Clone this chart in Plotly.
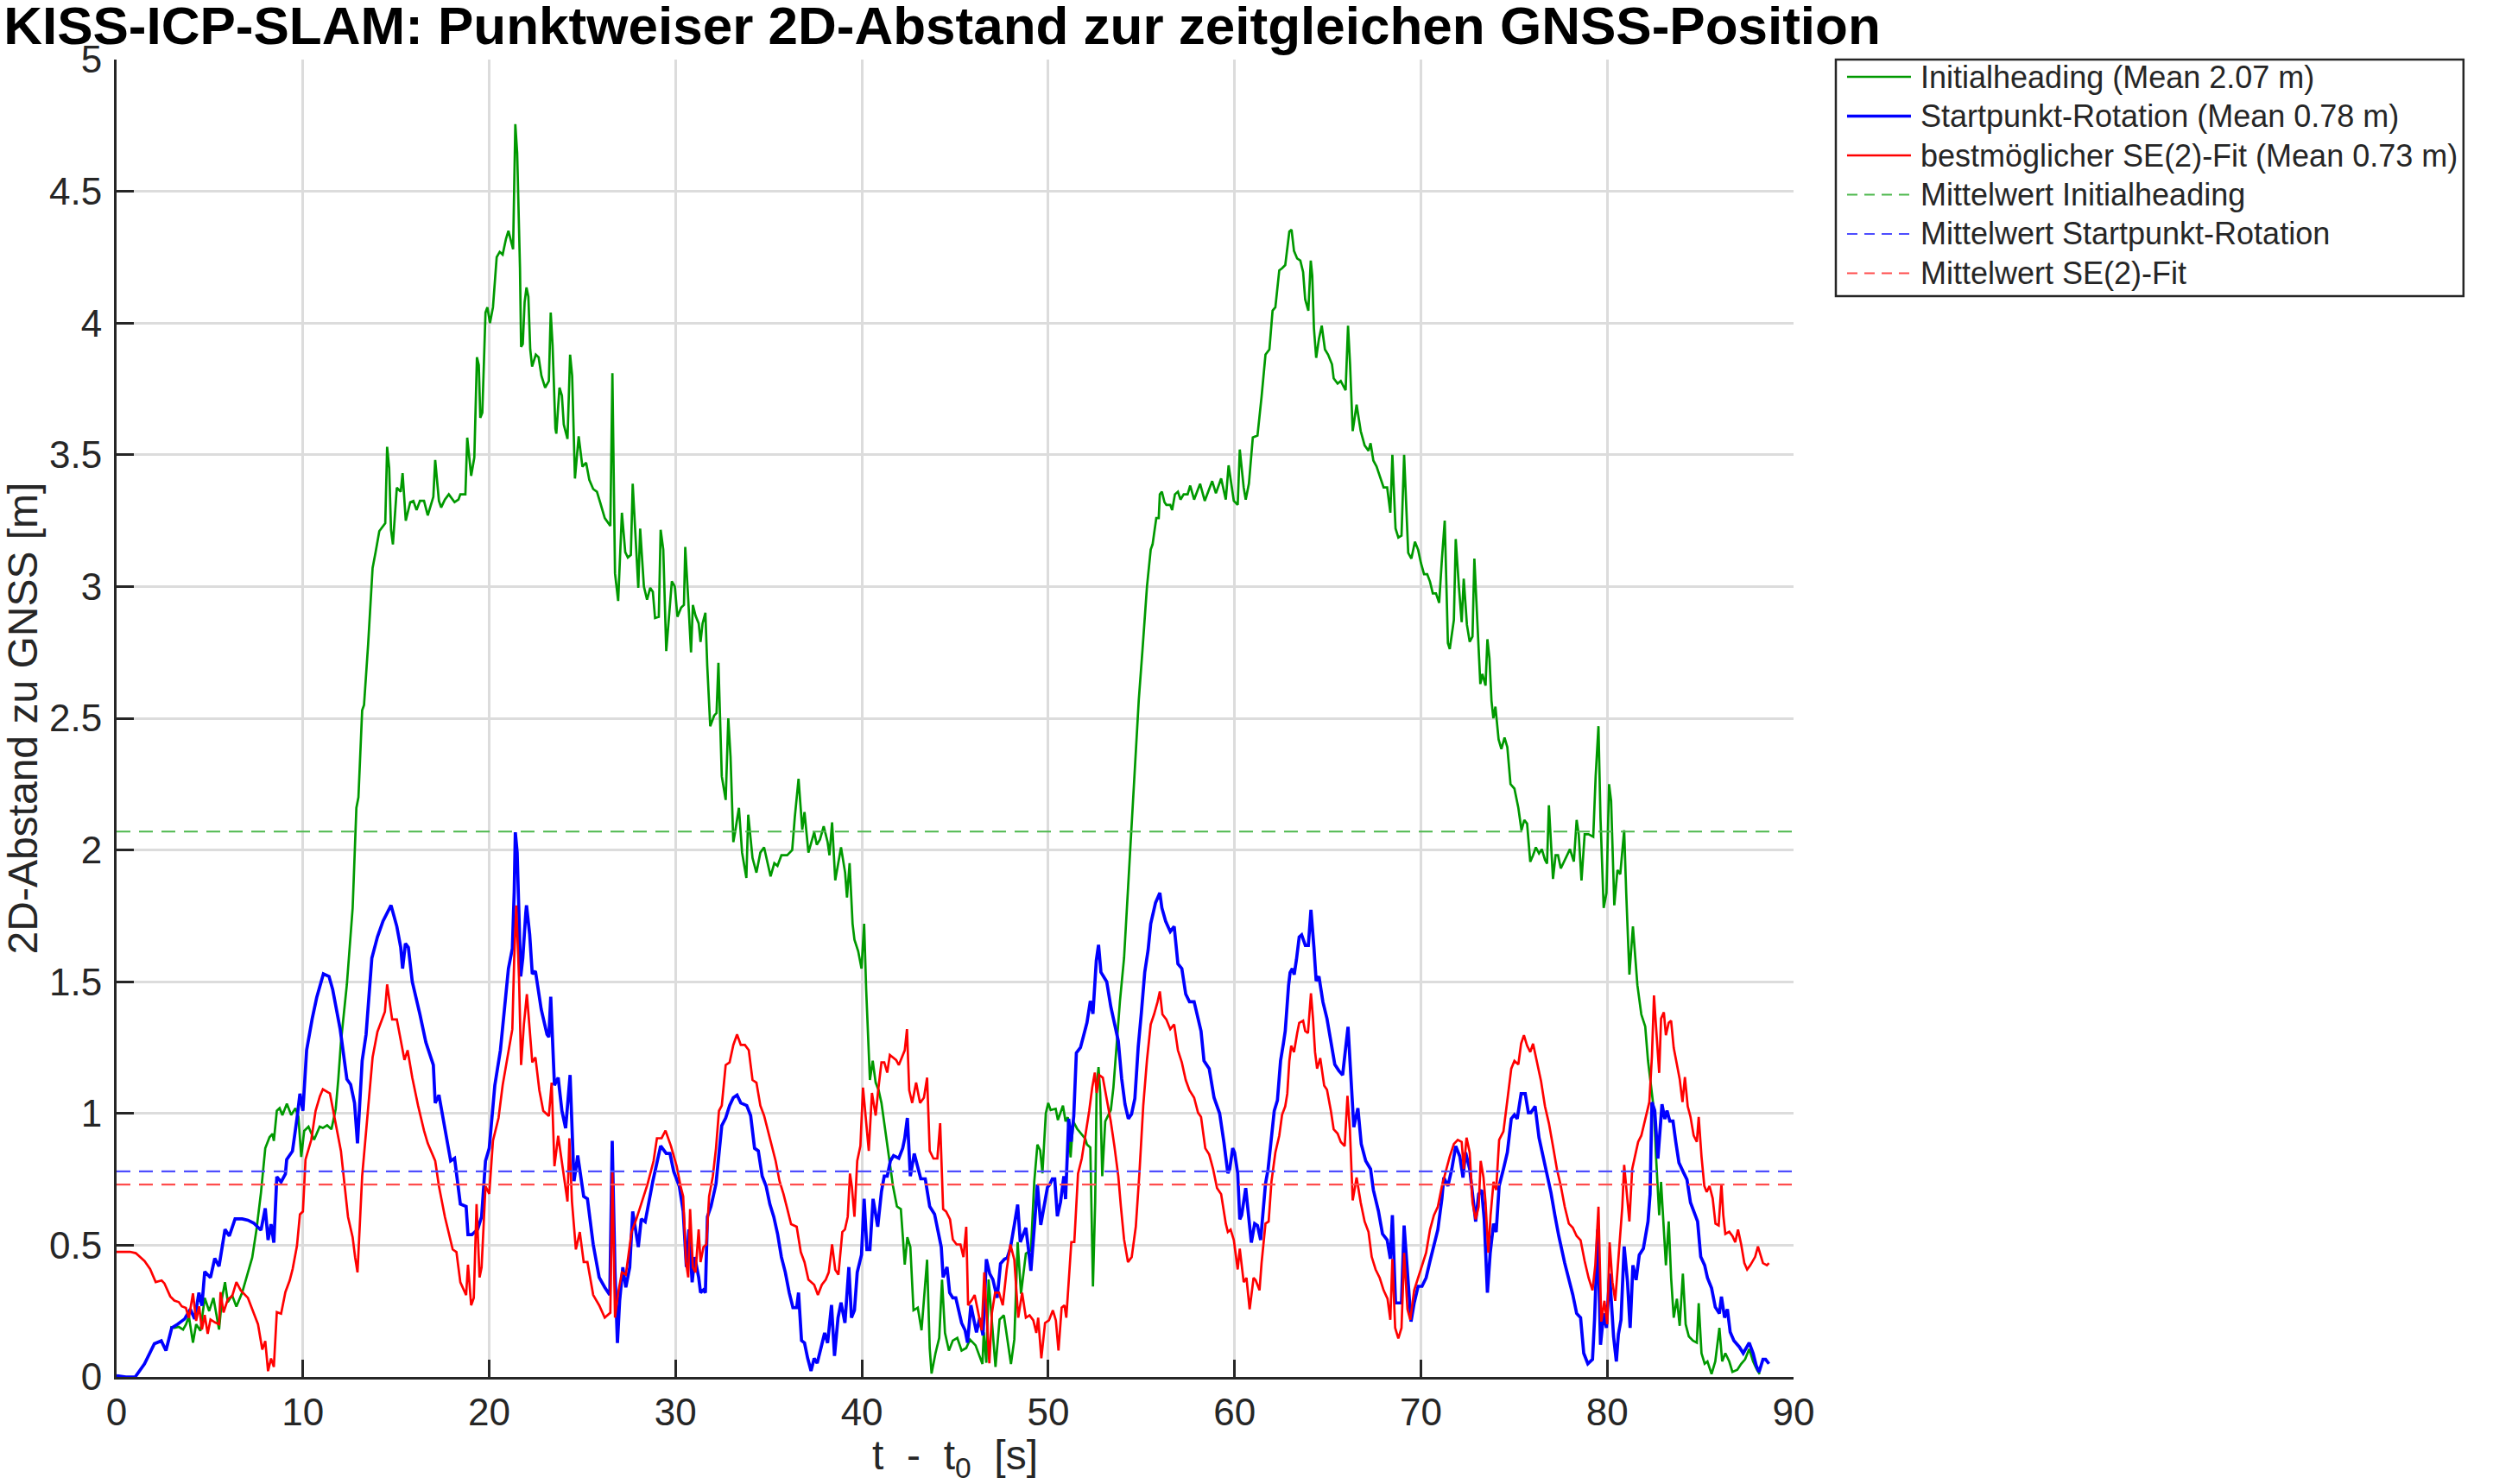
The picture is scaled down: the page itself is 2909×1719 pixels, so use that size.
import plotly.graph_objects as go

# ---------------- data ----------------
t_green = [2.88, 3.1, 3.34, 3.57, 3.73, 3.88, 4.1, 4.27, 4.5, 4.73, 4.97, 5.2, 5.5, 5.66, 5.82, 5.97, 6.2, 6.43, 6.74, 7.05, 7.28, 7.51, 7.75, 7.98, 8.21, 8.37, 8.44, 8.6, 8.75, 8.9, 9.14, 9.37, 9.6, 9.76, 9.91, 10.07, 10.3, 10.6, 10.9, 11.07, 11.3, 11.53, 11.76, 11.9, 12.04, 12.36, 12.67, 12.87, 12.98, 13.18, 13.28, 13.5, 13.74, 13.9, 14.1, 14.42, 14.52, 14.63, 14.73, 14.83, 15.04, 15.25, 15.35, 15.52, 15.76, 15.93, 16.1, 16.28, 16.5, 16.7, 16.86, 17.0, 17.1, 17.3, 17.42, 17.62, 17.83, 18.14, 18.35, 18.45, 18.72, 18.82, 19.03, 19.2, 19.34, 19.44, 19.52, 19.63, 19.8, 19.9, 20.04, 20.2, 20.4, 20.56, 20.72, 20.9, 21.03, 21.28, 21.4, 21.5, 21.65, 21.71, 21.8, 21.9, 22.0, 22.1, 22.2, 22.3, 22.5, 22.65, 22.8, 23.0, 23.2, 23.3, 23.4, 23.55, 23.6, 23.77, 23.9, 24.0, 24.2, 24.34, 24.45, 24.6, 24.8, 25.0, 25.2, 25.37, 25.58, 25.78, 25.95, 26.2, 26.5, 26.61, 26.75, 26.92, 27.12, 27.3, 27.44, 27.6, 27.7, 27.85, 28.0, 28.1, 28.3, 28.47, 28.64, 28.78, 28.9, 29.1, 29.2, 29.34, 29.5, 29.8, 29.96, 30.1, 30.3, 30.45, 30.52, 30.68, 30.83, 30.93, 31.07, 31.24, 31.34, 31.45, 31.6, 31.7, 31.86, 32.07, 32.2, 32.3, 32.48, 32.69, 32.83, 32.95, 33.1, 33.2, 33.4, 33.57, 33.8, 33.9, 34.13, 34.34, 34.55, 34.75, 34.9, 35.1, 35.3, 35.47, 35.68, 35.99, 36.26, 36.4, 36.6, 36.8, 36.92, 37.13, 37.44, 37.58, 37.75, 37.95, 38.16, 38.26, 38.4, 38.57, 38.88, 39.1, 39.2, 39.34, 39.5, 39.6, 39.8, 39.98, 40.12, 40.23, 40.43, 40.58, 40.74, 40.9, 41.05, 41.26, 41.47, 41.67, 41.88, 42.09, 42.2, 42.3, 42.44, 42.6, 42.77, 43.0, 43.2, 43.5, 43.64, 43.74, 43.95, 44.15, 44.3, 44.46, 44.67, 44.88, 45.12, 45.35, 45.6, 45.8, 46.1, 46.47, 46.54, 46.68, 46.8, 47.03, 47.17, 47.39, 47.62, 48.0, 48.18, 48.36, 48.54, 48.8, 49.07, 49.25, 49.42, 49.57, 49.69, 49.87, 50.0, 50.13, 50.4, 50.52, 50.79, 50.93, 51.05, 51.2, 51.34, 51.55, 51.85, 51.99, 52.08, 52.26, 52.4, 52.52, 52.6, 52.7, 52.79, 52.9, 53.06, 53.23, 53.36, 53.5, 53.68, 53.85, 54.07, 54.28, 54.5, 54.65, 54.86, 55.06, 55.3, 55.5, 55.6, 55.8, 55.93, 55.99, 56.1, 56.24, 56.34, 56.55, 56.65, 56.8, 56.96, 57.1, 57.27, 57.48, 57.62, 57.83, 58.15, 58.4, 58.8, 59.0, 59.28, 59.53, 59.68, 59.96, 60.17, 60.28, 60.49, 60.6, 60.77, 60.98, 61.23, 61.45, 61.66, 61.87, 62.04, 62.19, 62.4, 62.55, 62.72, 62.94, 63.06, 63.19, 63.36, 63.53, 63.68, 63.79, 63.96, 64.09, 64.17, 64.26, 64.38, 64.53, 64.68, 64.85, 65.02, 65.23, 65.32, 65.53, 65.7, 65.96, 66.09, 66.2, 66.34, 66.55, 66.77, 66.98, 67.19, 67.3, 67.45, 67.62, 67.83, 68.0, 68.19, 68.36, 68.47, 68.64, 68.79, 68.96, 69.1, 69.32, 69.49, 69.68, 69.85, 70.0, 70.17, 70.34, 70.49, 70.64, 70.81, 70.98, 71.13, 71.28, 71.45, 71.55, 71.77, 71.87, 72.04, 72.19, 72.3, 72.47, 72.62, 72.77, 72.87, 73.04, 73.19, 73.3, 73.47, 73.57, 73.68, 73.79, 73.89, 74.0, 74.17, 74.32, 74.49, 74.64, 74.81, 75.02, 75.23, 75.4, 75.55, 75.7, 75.87, 76.02, 76.17, 76.34, 76.49, 76.66, 76.77, 76.87, 77.09, 77.23, 77.36, 77.51, 77.72, 78.0, 78.21, 78.36, 78.47, 78.62, 78.79, 79.0, 79.25, 79.38, 79.53, 79.64, 79.81, 79.96, 80.1, 80.21, 80.38, 80.55, 80.7, 80.91, 81.02, 81.19, 81.38, 81.62, 81.83, 82.04, 82.19, 82.4, 82.51, 82.62, 82.79, 82.89, 83.04, 83.15, 83.3, 83.43, 83.57, 83.74, 83.89, 84.06, 84.21, 84.38, 84.6, 84.81, 84.91, 85.06, 85.23, 85.38, 85.6, 85.8, 86.02, 86.17, 86.34, 86.55, 86.72, 86.98, 87.19, 87.4, 87.62, 87.83, 88.04, 88.19]
v_green = [0.19, 0.186, 0.19, 0.18, 0.2, 0.23, 0.13, 0.2, 0.175, 0.3, 0.25, 0.3, 0.18, 0.3, 0.36, 0.284, 0.31, 0.267, 0.32, 0.4, 0.453, 0.56, 0.7, 0.868, 0.91, 0.923, 0.896, 1.01, 1.02, 0.994, 1.037, 0.994, 1.02, 0.988, 0.835, 0.934, 0.95, 0.9, 0.95, 0.945, 0.955, 0.94, 1.016, 1.13, 1.27, 1.49, 1.78, 2.16, 2.2, 2.53, 2.55, 2.78, 3.07, 3.13, 3.21, 3.24, 3.53, 3.45, 3.215, 3.16, 3.375, 3.36, 3.43, 3.25, 3.32, 3.325, 3.29, 3.325, 3.325, 3.27, 3.31, 3.34, 3.48, 3.325, 3.3, 3.33, 3.35, 3.32, 3.33, 3.35, 3.35, 3.565, 3.42, 3.49, 3.87, 3.84, 3.64, 3.66, 4.04, 4.06, 4.0, 4.06, 4.25, 4.27, 4.26, 4.32, 4.35, 4.28, 4.755, 4.645, 4.21, 3.91, 3.92, 4.08, 4.135, 4.1, 3.9, 3.835, 3.88, 3.87, 3.8, 3.755, 3.78, 4.04, 3.915, 3.6, 3.58, 3.755, 3.725, 3.615, 3.56, 3.88, 3.8, 3.41, 3.57, 3.455, 3.47, 3.405, 3.37, 3.36, 3.32, 3.26, 3.23, 3.81, 3.05, 2.945, 3.28, 3.13, 3.11, 3.12, 3.39, 3.2, 2.995, 3.22, 3.0, 2.95, 2.995, 2.98, 2.88, 2.885, 3.215, 3.14, 2.755, 3.02, 3.0, 2.885, 2.92, 2.93, 3.15, 2.95, 2.75, 2.93, 2.89, 2.86, 2.79, 2.86, 2.9, 2.7, 2.47, 2.51, 2.52, 2.71, 2.28, 2.19, 2.5, 2.355, 2.03, 2.07, 2.16, 1.99, 1.894, 2.134, 1.97, 1.914, 1.99, 2.01, 1.96, 1.9, 1.95, 1.94, 1.98, 1.98, 2.0, 2.125, 2.27, 2.077, 2.144, 1.99, 2.067, 2.02, 2.04, 2.09, 2.03, 1.98, 2.105, 1.885, 2.01, 1.914, 1.82, 1.95, 1.72, 1.66, 1.616, 1.55, 1.72, 1.47, 1.127, 1.2, 1.117, 1.088, 1.04, 0.935, 0.82, 0.724, 0.647, 0.637, 0.53, 0.426, 0.53, 0.493, 0.253, 0.263, 0.177, 0.445, 0.109, 0.013, 0.09, 0.148, 0.369, 0.167, 0.1, 0.138, 0.148, 0.1, 0.11, 0.142, 0.12, 0.049, 0.169, 0.054, 0.37, 0.152, 0.038, 0.218, 0.234, 0.049, 0.142, 0.512, 0.316, 0.468, 0.48, 0.74, 0.882, 0.86, 0.773, 1.0, 1.04, 1.013, 1.018, 0.975, 1.03, 0.97, 0.986, 0.833, 0.97, 0.942, 0.915, 0.904, 0.882, 0.871, 0.343, 0.664, 1.105, 1.176, 1.078, 0.762, 0.97, 0.997, 1.013, 1.1, 1.264, 1.427, 1.59, 1.856, 2.125, 2.3, 2.57, 2.76, 3.0, 3.14, 3.16, 3.26, 3.26, 3.35, 3.36, 3.32, 3.31, 3.31, 3.29, 3.35, 3.36, 3.33, 3.35, 3.35, 3.383, 3.33, 3.39, 3.325, 3.4, 3.354, 3.41, 3.33, 3.46, 3.325, 3.31, 3.52, 3.376, 3.33, 3.39, 3.566, 3.573, 3.72, 3.88, 3.9, 4.047, 4.06, 4.2, 4.208, 4.22, 4.347, 4.354, 4.274, 4.245, 4.237, 4.193, 4.09, 4.047, 4.237, 4.18, 3.98, 3.868, 3.94, 3.99, 3.9, 3.88, 3.843, 3.79, 3.77, 3.78, 3.745, 3.99, 3.843, 3.59, 3.69, 3.59, 3.536, 3.515, 3.544, 3.478, 3.456, 3.41, 3.376, 3.376, 3.28, 3.5, 3.22, 3.186, 3.193, 3.5, 3.128, 3.106, 3.17, 3.14, 3.09, 3.047, 3.047, 3.018, 2.974, 2.974, 2.938, 3.106, 3.25, 2.785, 2.763, 2.873, 3.18, 3.0, 2.865, 3.03, 2.855, 2.79, 2.81, 3.106, 2.873, 2.63, 2.668, 2.624, 2.8, 2.727, 2.566, 2.5, 2.544, 2.42, 2.383, 2.427, 2.39, 2.25, 2.233, 2.16, 2.075, 2.114, 2.1, 1.955, 1.98, 2.01, 1.987, 2.003, 1.963, 1.948, 2.17, 1.89, 1.98, 1.98, 1.93, 1.963, 2.003, 1.956, 2.114, 2.06, 1.884, 2.06, 2.06, 2.05, 2.28, 2.47, 2.12, 1.78, 1.837, 2.25, 2.186, 1.79, 1.924, 1.908, 2.075, 1.837, 1.527, 1.71, 1.487, 1.376, 1.33, 1.2, 1.075, 1.01, 0.837, 0.614, 0.74, 0.55, 0.424, 0.59, 0.376, 0.225, 0.297, 0.194, 0.392, 0.2, 0.154, 0.138, 0.13, 0.28, 0.09, 0.05, 0.059, 0.011, 0.059, 0.186, 0.059, 0.09, 0.059, 0.019, 0.027, 0.05, 0.067, 0.106, 0.059, 0.027, 0.011]

t_blue = [0.0, 0.5, 1.0, 1.5, 2.03, 2.4, 2.65, 2.96, 3.27, 3.65, 3.96, 4.19, 4.42, 4.58, 4.73, 5.04, 5.27, 5.5, 5.82, 6.05, 6.36, 6.74, 7.05, 7.36, 7.75, 7.98, 8.13, 8.29, 8.44, 8.6, 8.83, 9.06, 9.13, 9.44, 9.68, 9.84, 10.0, 10.2, 10.5, 10.74, 11.1, 11.4, 11.6, 12.0, 12.36, 12.56, 12.77, 12.93, 13.18, 13.39, 13.7, 14.0, 14.3, 14.73, 15.04, 15.25, 15.35, 15.5, 15.66, 15.87, 16.28, 16.6, 17.0, 17.1, 17.3, 17.62, 17.93, 18.14, 18.45, 18.76, 18.86, 19.07, 19.38, 19.59, 19.8, 20.0, 20.3, 20.6, 20.83, 21.03, 21.24, 21.34, 21.4, 21.5, 21.69, 21.8, 21.96, 22.0, 22.17, 22.31, 22.48, 22.79, 23.1, 23.2, 23.3, 23.5, 23.7, 23.9, 24.1, 24.34, 24.55, 24.75, 25.07, 25.27, 25.58, 25.9, 26.2, 26.47, 26.6, 26.75, 26.88, 27.0, 27.17, 27.33, 27.54, 27.7, 28.0, 28.16, 28.37, 28.78, 29.2, 29.5, 29.7, 29.9, 30.2, 30.41, 30.58, 30.72, 30.89, 31.03, 31.24, 31.34, 31.49, 31.6, 31.71, 31.9, 32.17, 32.31, 32.48, 32.69, 32.9, 33.1, 33.3, 33.5, 33.82, 34.03, 34.24, 34.44, 34.65, 34.86, 35.06, 35.27, 35.48, 35.68, 35.89, 36.1, 36.3, 36.5, 36.6, 36.76, 36.92, 37.09, 37.27, 37.44, 37.6, 37.8, 38.0, 38.16, 38.37, 38.53, 38.72, 38.88, 39.09, 39.3, 39.44, 39.6, 39.75, 39.98, 40.12, 40.27, 40.43, 40.6, 40.85, 41.05, 41.2, 41.36, 41.53, 41.7, 41.98, 42.19, 42.3, 42.44, 42.6, 42.81, 43.02, 43.16, 43.4, 43.64, 43.9, 44.1, 44.26, 44.36, 44.57, 44.71, 44.88, 45.04, 45.2, 45.35, 45.54, 45.67, 45.85, 45.97, 46.15, 46.32, 46.5, 46.68, 46.86, 47.03, 47.26, 47.44, 47.65, 47.8, 47.97, 48.18, 48.36, 48.5, 48.8, 48.95, 49.07, 49.25, 49.42, 49.6, 49.78, 49.96, 50.08, 50.22, 50.35, 50.49, 50.66, 50.84, 50.93, 51.1, 51.23, 51.37, 51.51, 51.73, 51.9, 52.08, 52.26, 52.4, 52.58, 52.7, 52.83, 53.14, 53.36, 53.59, 53.76, 53.94, 54.12, 54.3, 54.47, 54.65, 54.83, 55.0, 55.18, 55.36, 55.5, 55.76, 55.99, 56.1, 56.3, 56.55, 56.76, 56.96, 57.17, 57.38, 57.58, 57.83, 58.04, 58.2, 58.36, 58.64, 58.9, 59.2, 59.43, 59.64, 59.74, 59.9, 60.0, 60.17, 60.28, 60.38, 60.6, 60.77, 60.9, 61.08, 61.23, 61.4, 61.5, 61.66, 61.8, 61.98, 62.13, 62.3, 62.47, 62.62, 62.72, 62.9, 62.98, 63.1, 63.2, 63.32, 63.47, 63.6, 63.8, 63.96, 64.1, 64.26, 64.38, 64.53, 64.74, 64.96, 65.17, 65.38, 65.6, 65.8, 66.09, 66.23, 66.4, 66.62, 66.8, 67.04, 67.3, 67.45, 67.72, 67.94, 68.19, 68.36, 68.47, 68.64, 68.79, 68.96, 69.1, 69.28, 69.47, 69.64, 69.85, 70.06, 70.28, 70.49, 70.7, 70.91, 71.13, 71.23, 71.45, 71.66, 71.87, 72.09, 72.26, 72.4, 72.62, 72.77, 72.94, 73.1, 73.26, 73.4, 73.57, 73.72, 73.9, 74.04, 74.2, 74.43, 74.64, 74.85, 75.02, 75.17, 75.38, 75.6, 75.77, 75.9, 76.13, 76.34, 76.55, 76.77, 76.98, 77.19, 77.4, 77.72, 77.94, 78.15, 78.36, 78.57, 78.74, 78.96, 79.21, 79.32, 79.49, 79.64, 79.81, 79.96, 80.13, 80.34, 80.49, 80.6, 80.74, 80.91, 81.09, 81.23, 81.38, 81.55, 81.72, 81.94, 82.19, 82.3, 82.4, 82.55, 82.72, 82.83, 82.94, 83.09, 83.21, 83.36, 83.53, 83.68, 83.85, 84.06, 84.28, 84.47, 84.64, 84.85, 85.02, 85.23, 85.38, 85.6, 85.8, 86.02, 86.13, 86.3, 86.45, 86.6, 86.8, 87.09, 87.3, 87.62, 87.83, 88.0, 88.15, 88.36, 88.5, 88.68]
v_blue = [0.005, 0.0, 0.0, 0.05, 0.126, 0.137, 0.1, 0.186, 0.2, 0.22, 0.257, 0.22, 0.32, 0.27, 0.4, 0.377, 0.45, 0.42, 0.56, 0.535, 0.6, 0.6, 0.595, 0.584, 0.557, 0.64, 0.52, 0.58, 0.51, 0.76, 0.74, 0.77, 0.825, 0.857, 0.98, 1.075, 1.01, 1.24, 1.36, 1.44, 1.53, 1.52, 1.47, 1.32, 1.13, 1.11, 1.04, 0.887, 1.2, 1.3, 1.59, 1.67, 1.73, 1.79, 1.71, 1.63, 1.55, 1.645, 1.63, 1.5, 1.376, 1.27, 1.184, 1.04, 1.07, 0.935, 0.82, 0.83, 0.656, 0.647, 0.54, 0.54, 0.56, 0.608, 0.82, 0.868, 1.107, 1.24, 1.415, 1.55, 1.626, 1.84, 2.067, 1.99, 1.52, 1.59, 1.76, 1.79, 1.68, 1.53, 1.54, 1.395, 1.3, 1.29, 1.443, 1.107, 1.136, 1.01, 0.944, 1.146, 0.743, 0.84, 0.685, 0.676, 0.503, 0.378, 0.34, 0.311, 0.896, 0.397, 0.129, 0.29, 0.416, 0.34, 0.416, 0.628, 0.493, 0.6, 0.589, 0.743, 0.877, 0.848, 0.848, 0.78, 0.724, 0.628, 0.417, 0.56, 0.359, 0.455, 0.378, 0.32, 0.33, 0.32, 0.608, 0.647, 0.733, 0.83, 0.954, 0.983, 1.03, 1.06, 1.07, 1.04, 1.03, 0.992, 0.868, 0.858, 0.762, 0.724, 0.656, 0.608, 0.541, 0.455, 0.397, 0.32, 0.263, 0.263, 0.32, 0.138, 0.129, 0.071, 0.023, 0.071, 0.052, 0.109, 0.167, 0.129, 0.273, 0.08, 0.225, 0.282, 0.205, 0.417, 0.225, 0.253, 0.397, 0.464, 0.676, 0.484, 0.484, 0.676, 0.57, 0.704, 0.762, 0.762, 0.82, 0.84, 0.83, 0.868, 0.906, 0.983, 0.762, 0.848, 0.79, 0.752, 0.752, 0.647, 0.618, 0.55, 0.493, 0.378, 0.417, 0.32, 0.3, 0.3, 0.244, 0.205, 0.177, 0.13, 0.272, 0.229, 0.169, 0.223, 0.158, 0.447, 0.392, 0.37, 0.3, 0.43, 0.447, 0.452, 0.49, 0.577, 0.654, 0.512, 0.566, 0.479, 0.403, 0.566, 0.73, 0.577, 0.643, 0.72, 0.73, 0.752, 0.752, 0.61, 0.664, 0.762, 0.675, 0.98, 0.893, 0.99, 1.23, 1.25, 1.296, 1.345, 1.427, 1.378, 1.58, 1.64, 1.536, 1.5, 1.405, 1.33, 1.275, 1.133, 1.035, 0.98, 0.997, 1.057, 1.253, 1.383, 1.536, 1.62, 1.72, 1.8, 1.837, 1.78, 1.73, 1.69, 1.71, 1.568, 1.55, 1.453, 1.424, 1.424, 1.36, 1.313, 1.2, 1.17, 1.06, 1.0, 0.89, 0.773, 0.789, 0.868, 0.852, 0.773, 0.598, 0.614, 0.717, 0.598, 0.51, 0.582, 0.575, 0.52, 0.614, 0.733, 0.789, 0.916, 1.01, 1.05, 1.2, 1.265, 1.313, 1.487, 1.535, 1.55, 1.527, 1.583, 1.67, 1.678, 1.638, 1.638, 1.773, 1.63, 1.503, 1.52, 1.424, 1.36, 1.265, 1.186, 1.162, 1.146, 1.329, 1.138, 0.948, 1.02, 0.884, 0.82, 0.789, 0.71, 0.63, 0.543, 0.52, 0.448, 0.614, 0.281, 0.281, 0.281, 0.575, 0.376, 0.21, 0.281, 0.344, 0.344, 0.376, 0.44, 0.495, 0.559, 0.678, 0.757, 0.725, 0.789, 0.876, 0.837, 0.757, 0.852, 0.789, 0.694, 0.59, 0.694, 0.71, 0.598, 0.32, 0.47, 0.582, 0.55, 0.725, 0.789, 0.852, 0.98, 0.995, 0.98, 1.075, 1.075, 1.003, 1.003, 1.027, 0.908, 0.837, 0.757, 0.7, 0.614, 0.535, 0.432, 0.376, 0.313, 0.241, 0.225, 0.09, 0.05, 0.067, 0.217, 0.559, 0.122, 0.241, 0.186, 0.392, 0.154, 0.059, 0.162, 0.217, 0.495, 0.36, 0.186, 0.424, 0.368, 0.463, 0.487, 0.59, 0.694, 1.043, 1.011, 0.829, 0.924, 1.035, 0.979, 1.011, 0.971, 0.971, 0.892, 0.813, 0.781, 0.749, 0.662, 0.63, 0.59, 0.456, 0.424, 0.376, 0.337, 0.265, 0.241, 0.305, 0.225, 0.257, 0.17, 0.138, 0.114, 0.09, 0.13, 0.09, 0.043, 0.019, 0.067, 0.067, 0.05]

t_red = [0.0, 0.72, 1.03, 1.5, 1.8, 2.1, 2.42, 2.57, 2.88, 3.1, 3.34, 3.5, 3.72, 3.88, 4.1, 4.27, 4.43, 4.58, 4.73, 4.89, 5.04, 5.28, 5.5, 5.58, 5.74, 5.97, 6.2, 6.43, 6.67, 7.05, 7.28, 7.59, 7.82, 7.98, 8.13, 8.29, 8.44, 8.6, 8.83, 9.06, 9.29, 9.45, 9.68, 9.84, 10.0, 10.14, 10.45, 10.68, 10.91, 11.07, 11.45, 11.63, 12.04, 12.42, 12.67, 12.8, 12.93, 13.18, 13.5, 13.74, 14.0, 14.3, 14.4, 14.52, 14.79, 15.04, 15.35, 15.45, 15.62, 15.87, 16.18, 16.5, 16.7, 17.1, 17.3, 17.62, 18.04, 18.24, 18.45, 18.76, 18.86, 19.03, 19.17, 19.32, 19.48, 19.59, 19.8, 20.0, 20.2, 20.5, 20.72, 21.03, 21.24, 21.34, 21.45, 21.6, 21.71, 21.86, 22.02, 22.17, 22.31, 22.48, 22.69, 22.9, 23.2, 23.35, 23.5, 23.7, 23.9, 24.2, 24.3, 24.44, 24.65, 24.86, 25.07, 25.27, 25.58, 25.9, 26.2, 26.5, 26.61, 26.75, 26.92, 27.12, 27.33, 27.64, 27.9, 28.2, 28.5, 28.82, 29.0, 29.25, 29.46, 29.75, 30.06, 30.27, 30.41, 30.56, 30.68, 30.78, 30.93, 31.07, 31.24, 31.34, 31.5, 31.65, 31.8, 32.0, 32.17, 32.33, 32.48, 32.69, 32.9, 33.1, 33.3, 33.5, 33.72, 33.93, 34.13, 34.34, 34.55, 34.75, 34.96, 35.17, 35.37, 35.58, 35.79, 36.0, 36.2, 36.5, 36.72, 36.92, 37.13, 37.44, 37.64, 37.85, 38.06, 38.22, 38.4, 38.57, 38.74, 38.95, 39.09, 39.24, 39.36, 39.46, 39.6, 39.75, 39.92, 40.06, 40.23, 40.37, 40.54, 40.74, 40.89, 41.05, 41.2, 41.36, 41.5, 41.67, 41.84, 41.98, 42.13, 42.3, 42.42, 42.54, 42.7, 42.91, 43.12, 43.33, 43.5, 43.64, 43.84, 44.05, 44.2, 44.36, 44.52, 44.73, 44.88, 45.08, 45.29, 45.45, 45.6, 45.7, 45.9, 46.05, 46.22, 46.43, 46.57, 46.7, 46.84, 46.98, 47.15, 47.36, 47.56, 47.77, 47.97, 48.18, 48.39, 48.6, 48.8, 49.0, 49.2, 49.36, 49.46, 49.63, 49.83, 50.04, 50.25, 50.41, 50.55, 50.72, 50.87, 50.97, 51.12, 51.24, 51.4, 51.6, 51.8, 52.0, 52.2, 52.36, 52.5, 52.6, 52.73, 52.93, 53.14, 53.35, 53.55, 53.76, 53.9, 54.07, 54.28, 54.48, 54.7, 54.9, 55.1, 55.3, 55.5, 55.68, 55.87, 55.99, 56.13, 56.34, 56.55, 56.76, 56.96, 57.17, 57.38, 57.58, 57.83, 58.04, 58.2, 58.43, 58.64, 58.85, 59.06, 59.28, 59.53, 59.64, 59.79, 59.96, 60.17, 60.28, 60.49, 60.64, 60.81, 61.02, 61.13, 61.34, 61.45, 61.66, 61.83, 61.98, 62.19, 62.4, 62.55, 62.72, 62.83, 62.94, 63.04, 63.19, 63.36, 63.47, 63.68, 63.79, 63.94, 64.1, 64.21, 64.32, 64.43, 64.6, 64.81, 64.96, 65.17, 65.32, 65.53, 65.7, 65.91, 66.06, 66.19, 66.34, 66.55, 66.77, 66.98, 67.19, 67.36, 67.57, 67.79, 68.0, 68.21, 68.36, 68.47, 68.62, 68.79, 68.96, 69.1, 69.28, 69.43, 69.64, 69.85, 70.06, 70.28, 70.49, 70.7, 70.91, 71.13, 71.34, 71.55, 71.77, 71.98, 72.19, 72.3, 72.45, 72.62, 72.77, 72.94, 73.1, 73.21, 73.36, 73.47, 73.62, 73.74, 73.9, 74.04, 74.2, 74.43, 74.64, 74.85, 75.02, 75.23, 75.38, 75.53, 75.7, 75.87, 76.02, 76.23, 76.45, 76.66, 76.87, 77.09, 77.3, 77.51, 77.72, 77.94, 78.15, 78.36, 78.57, 78.79, 79.0, 79.21, 79.36, 79.53, 79.68, 79.85, 80.0, 80.13, 80.28, 80.43, 80.6, 80.81, 80.91, 81.02, 81.19, 81.34, 81.49, 81.66, 81.83, 82.04, 82.26, 82.4, 82.51, 82.62, 82.79, 82.89, 83.04, 83.15, 83.3, 83.43, 83.57, 83.74, 83.89, 84.04, 84.17, 84.32, 84.47, 84.64, 84.81, 84.91, 85.06, 85.21, 85.34, 85.49, 85.66, 85.81, 85.98, 86.13, 86.23, 86.34, 86.55, 86.72, 86.87, 87.02, 87.19, 87.36, 87.51, 87.68, 87.94, 88.09, 88.26, 88.36, 88.57, 88.68]
v_red = [0.475, 0.475, 0.47, 0.44, 0.41, 0.36, 0.366, 0.355, 0.306, 0.29, 0.284, 0.268, 0.262, 0.224, 0.317, 0.213, 0.268, 0.18, 0.235, 0.164, 0.218, 0.207, 0.2, 0.322, 0.245, 0.295, 0.306, 0.36, 0.328, 0.3, 0.257, 0.2, 0.104, 0.136, 0.022, 0.07, 0.038, 0.246, 0.24, 0.322, 0.366, 0.41, 0.497, 0.617, 0.628, 0.825, 0.9, 1.01, 1.065, 1.092, 1.076, 1.01, 0.858, 0.608, 0.53, 0.455, 0.397, 0.762, 1.01, 1.213, 1.31, 1.367, 1.386, 1.49, 1.357, 1.357, 1.24, 1.203, 1.24, 1.136, 1.03, 0.935, 0.887, 0.82, 0.724, 0.608, 0.484, 0.474, 0.359, 0.311, 0.426, 0.272, 0.3, 0.656, 0.378, 0.416, 0.724, 0.695, 0.896, 0.983, 1.107, 1.24, 1.32, 1.587, 1.79, 1.51, 1.184, 1.338, 1.453, 1.32, 1.194, 1.213, 1.088, 1.01, 0.99, 1.117, 0.8, 0.915, 0.82, 0.666, 0.906, 0.666, 0.484, 0.55, 0.436, 0.436, 0.311, 0.272, 0.225, 0.244, 0.78, 0.225, 0.32, 0.397, 0.388, 0.55, 0.6, 0.666, 0.733, 0.82, 0.906, 0.906, 0.935, 0.877, 0.8, 0.724, 0.685, 0.436, 0.378, 0.637, 0.416, 0.397, 0.56, 0.436, 0.493, 0.503, 0.685, 0.762, 0.868, 1.01, 1.03, 1.184, 1.194, 1.26, 1.3, 1.26, 1.26, 1.24, 1.127, 1.117, 1.03, 0.992, 0.935, 0.877, 0.82, 0.743, 0.695, 0.637, 0.58, 0.57, 0.474, 0.436, 0.369, 0.35, 0.311, 0.35, 0.369, 0.397, 0.503, 0.407, 0.388, 0.55, 0.56, 0.608, 0.772, 0.724, 0.608, 0.82, 0.877, 1.098, 0.973, 0.858, 1.078, 0.992, 1.098, 1.194, 1.194, 1.155, 1.222, 1.213, 1.203, 1.184, 1.213, 1.24, 1.32, 1.088, 1.04, 1.117, 1.04, 1.06, 1.136, 0.858, 0.829, 0.829, 0.963, 0.637, 0.628, 0.598, 0.522, 0.503, 0.503, 0.455, 0.57, 0.272, 0.292, 0.311, 0.253, 0.177, 0.397, 0.225, 0.052, 0.244, 0.32, 0.32, 0.272, 0.407, 0.503, 0.445, 0.225, 0.32, 0.225, 0.234, 0.215, 0.167, 0.225, 0.071, 0.205, 0.215, 0.253, 0.215, 0.1, 0.263, 0.272, 0.225, 0.378, 0.512, 0.512, 0.772, 0.829, 0.915, 1.01, 1.098, 1.155, 1.078, 1.146, 1.136, 1.06, 0.973, 0.877, 0.762, 0.647, 0.522, 0.436, 0.455, 0.57, 0.78, 1.03, 1.203, 1.338, 1.376, 1.424, 1.463, 1.376, 1.357, 1.32, 1.338, 1.24, 1.194, 1.127, 1.088, 1.06, 1.003, 0.987, 0.868, 0.844, 0.789, 0.717, 0.694, 0.582, 0.55, 0.559, 0.52, 0.408, 0.487, 0.36, 0.376, 0.257, 0.376, 0.368, 0.329, 0.432, 0.582, 0.59, 0.741, 0.852, 0.916, 0.995, 1.027, 1.075, 1.2, 1.257, 1.233, 1.305, 1.344, 1.352, 1.313, 1.305, 1.456, 1.36, 1.233, 1.17, 1.21, 1.106, 1.09, 1.01, 0.94, 0.924, 0.892, 0.876, 1.067, 0.94, 0.67, 0.757, 0.662, 0.59, 0.55, 0.456, 0.408, 0.376, 0.329, 0.297, 0.217, 0.448, 0.186, 0.146, 0.186, 0.471, 0.257, 0.217, 0.329, 0.376, 0.424, 0.471, 0.559, 0.614, 0.646, 0.725, 0.781, 0.837, 0.884, 0.9, 0.892, 0.789, 0.908, 0.852, 0.662, 0.598, 0.646, 0.82, 0.757, 0.662, 0.471, 0.614, 0.741, 0.71, 0.9, 0.932, 1.05, 1.17, 1.2, 1.186, 1.265, 1.297, 1.257, 1.233, 1.265, 1.194, 1.122, 1.027, 0.963, 0.876, 0.789, 0.725, 0.646, 0.582, 0.567, 0.535, 0.519, 0.44, 0.376, 0.329, 0.424, 0.646, 0.21, 0.289, 0.2, 0.511, 0.36, 0.289, 0.456, 0.646, 0.805, 0.71, 0.59, 0.789, 0.837, 0.892, 0.916, 0.98, 1.043, 1.217, 1.448, 1.329, 1.154, 1.36, 1.384, 1.297, 1.344, 1.352, 1.249, 1.186, 1.13, 1.043, 1.138, 1.027, 0.987, 0.916, 0.892, 0.987, 0.837, 0.725, 0.702, 0.725, 0.678, 0.582, 0.575, 0.733, 0.614, 0.543, 0.551, 0.535, 0.511, 0.559, 0.503, 0.432, 0.408, 0.424, 0.456, 0.495, 0.456, 0.432, 0.424, 0.432]

mean_values = [2.07, 0.78, 0.73]
mean_span = [0, 90]

series_names = [
    "Initialheading (Mean 2.07 m)",
    "Startpunkt-Rotation (Mean 0.78 m)",
    "bestmöglicher SE(2)-Fit (Mean 0.73 m)",
]
mean_names = [
    "Mittelwert Initialheading",
    "Mittelwert Startpunkt-Rotation",
    "Mittelwert SE(2)-Fit",
]
y_tickvals = [0, 0.5, 1, 1.5, 2, 2.5, 3, 3.5, 4, 4.5, 5]
y_ticktext = ["0", "0.5", "1", "1.5", "2", "2.5", "3", "3.5", "4", "4.5", "5"]
x_tickvals = [0, 10, 20, 30, 40, 50, 60, 70, 80, 90]
x_ticktext = ["0", "10", "20", "30", "40", "50", "60", "70", "80", "90"]

title_text = "KISS-ICP-SLAM: Punktweiser 2D-Abstand zur zeitgleichen GNSS-Position"

# ---------------- figure ----------------
FONT = "Liberation Sans, Arial, Helvetica, sans-serif"
TXT = "#262626"
W, H = 2909, 1719
ML, MR, MT, MB = 134.5, 832, 69, 124
PW, PH = W - MR - ML, H - MT - MB


def px_x(px):
    return (px - ML) / PW


def px_y(py):
    return (H - MB - py) / PH


line_colors = ["#009900", "#0000FF", "#FF0000"]
line_widths = [2.7, 3.7, 2.7]
mean_colors = ["#4DB84D", "#4D4DFF", "#FF4D4D"]
MEAN_DASH = "16px,10px"

fig = go.Figure()
for t, v, name, col, lw in zip([t_green, t_blue, t_red], [v_green, v_blue, v_red],
                               series_names, line_colors, line_widths):
    fig.add_trace(go.Scatter(x=t, y=v, mode="lines", name=name,
                             line=dict(color=col, width=lw), showlegend=False))
for m, name, col in zip(mean_values, mean_names, mean_colors):
    fig.add_trace(go.Scatter(x=mean_span, y=[m, m], mode="lines", name=name,
                             line=dict(color=col, width=2.2, dash=MEAN_DASH),
                             showlegend=False))

# ---- legend box (MATLAB style), drawn in paper coordinates ----
shapes = [dict(type="rect", xref="paper", yref="paper",
               x0=px_x(2126), x1=px_x(2853), y0=px_y(343), y1=px_y(69),
               line=dict(color="#262626", width=2.5), fillcolor="white", layer="above")]
annotations = []
legend_entries = [(n, c, w, None) for n, c, w in zip(series_names, line_colors, line_widths)] + \
                 [(n, c, 2.2, "dash") for n, c in zip(mean_names, mean_colors)]
row0, row_gap = 89, 45.5
for i, (name, col, lw, dash) in enumerate(legend_entries):
    yc = px_y(row0 + i * row_gap)
    shapes.append(dict(type="line", xref="paper", yref="paper",
                       x0=px_x(2139), x1=px_x(2213), y0=yc, y1=yc, layer="above",
                       line=dict(color=col, width=lw,
                                 dash=("12px,8px" if dash else "solid"))))
    annotations.append(dict(text=name, xref="paper", yref="paper",
                            x=px_x(2222), y=yc, xanchor="left", yanchor="middle",
                            showarrow=False,
                            font=dict(family=FONT, size=36, color=TXT)))

axis_common = dict(
    showline=True, linecolor=TXT, linewidth=3, mirror=False,
    ticks="inside", ticklen=20, tickwidth=3, tickcolor=TXT,
    showgrid=True, gridcolor="#DCDCDC", gridwidth=2.5,
    zeroline=False, tickfont=dict(family=FONT, size=44, color=TXT),
)

fig.update_layout(
    width=W, height=H,
    margin=dict(l=ML, r=MR, t=MT, b=MB, autoexpand=False),
    paper_bgcolor="white", plot_bgcolor="white",
    font=dict(family=FONT, color=TXT),
    title=dict(text=title_text, x=1091 / W, xanchor="center", xref="container",
               y=1 - 29 / H, yanchor="middle", yref="container",
               font=dict(family=FONT, size=62, color="#000000", weight="bold")),
    xaxis=dict(axis_common, range=[0, 90], tickvals=x_tickvals, ticktext=x_ticktext,
               ticklabelstandoff=0,
               title=dict(text="t\u00a0 -\u00a0 t<sub>0</sub>\u00a0 [s]",
                          font=dict(family=FONT, size=48, color=TXT), standoff=40)),
    yaxis=dict(axis_common, range=[0, 5], tickvals=y_tickvals, ticktext=y_ticktext,
               ticklabelstandoff=5,
               title=dict(text="2D-Abstand zu GNSS [m]",
                          font=dict(family=FONT, size=48, color=TXT), standoff=24)),
    shapes=shapes,
    annotations=annotations,
    showlegend=False,
)

fig.write_html("out.html")
